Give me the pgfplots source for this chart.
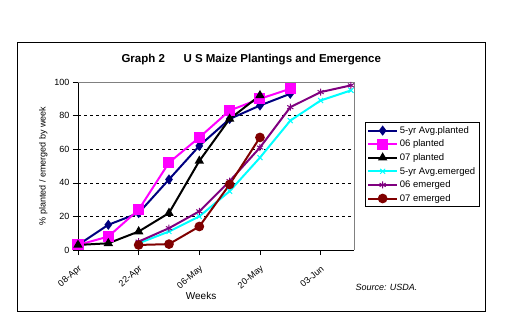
\documentclass[border=0pt]{standalone}
\usepackage{pgfplots}
\pgfplotsset{compat=1.18}
\usepackage{fontspec}
\setmainfont{Liberation Sans}
\definecolor{cnavy}{RGB}{0,0,128}
\definecolor{cmag}{RGB}{255,0,255}
\definecolor{ccyan}{RGB}{0,255,255}
\definecolor{cpurp}{RGB}{128,0,128}
\definecolor{cdred}{RGB}{128,0,0}
\begin{document}
\begin{tikzpicture}
\path (0pt,0pt) rectangle (512pt,-335pt);
\draw[line width=0.8pt] (17pt,-42pt) rectangle (485pt,-311pt);
\node[anchor=base west,font=\fontsize{11.5}{13}\selectfont\bfseries] at (118pt,-62pt) {Graph 2};
\node[anchor=base west,font=\fontsize{11.5}{13}\selectfont\bfseries] at (180pt,-62pt) {U S Maize Plantings and Emergence};
\begin{axis}[
  at={(78pt,-250pt)}, anchor=south west,
  scale only axis, width=276pt, height=168pt,
  xmin=0, xmax=9.1, ymin=0, ymax=100,
  axis x line*=bottom, axis y line*=left,
  axis line style={line width=0.6pt},
  xtick={0,2,4,6,8},
  xticklabels={08-Apr,22-Apr,06-May,20-May,03-Jun},
  ytick={0,20,40,60,80,100},
  tick align=outside, major tick length=5pt,
  tick style={black,line width=0.6pt},
  ymajorgrids, grid style={black,dashed,line width=0.6pt},
  xticklabel style={rotate=40,anchor=north east,font=\fontsize{9}{10}\selectfont, yshift=-4pt, xshift=-3pt},
  yticklabel style={font=\fontsize{9}{10}\selectfont},
  /pgf/number format/assume math mode=true,
  ylabel={\% planted / emerged by week},
  ylabel style={font=\fontsize{9}{10}\selectfont, xshift=0pt},
  xlabel={Weeks},
  xlabel style={font=\fontsize{10}{11}\selectfont, at={(axis description cs:0.446,-0.272)}, anchor=center},
  every axis plot/.append style={line width=2pt},
  legend style={at={(1.04,0.762)},anchor=north west,draw=black,line width=0.8pt,
    font=\fontsize{9.5}{11}\selectfont, row sep=1.2pt, inner sep=2pt},
  legend cell align=left,
  legend image code/.code={\draw[mark repeat=2,mark phase=2] plot coordinates {(0cm,0cm) (0.5cm,0cm) (1cm,0cm)};},
  clip=false,
]
\addplot[cnavy, mark=diamond*, mark size=3.5pt, mark options={solid}] coordinates {
(0,3) (1,15) (2,22) (3,42) (4,62) (5,78) (6,86) (7,93)};
\addlegendentry{5-yr Avg.planted}
\addplot[cmag, mark=square*, mark size=4.5pt] coordinates {
(0,3) (1,8) (2,24) (3,52) (4,67) (5,83) (6,90) (7,96)};
\addlegendentry{06 planted}
\addplot[black, mark=triangle*, mark size=3.5pt] coordinates {
(0,3) (1,4) (2,11) (3,22) (4,53) (5,78) (6,92)};
\addlegendentry{07 planted}
\addplot[ccyan, mark=x, mark size=3.5pt, mark options={line width=1pt}] coordinates {
(2,4) (3,11) (4,20) (5,35) (6,55) (7,77) (8,89) (9,95)};
\addlegendentry{5-yr Avg.emerged}
\addplot[cpurp, mark=asterisk, mark size=3.5pt, mark options={line width=1pt}] coordinates {
(2,5) (3,13) (4,23) (5,41) (6,61) (7,85) (8,94) (9,98)};
\addlegendentry{06 emerged}
\addplot[cdred, mark=*, mark size=3.8pt] coordinates {
(2,3) (3,3.5) (4,14) (5,39) (6,67)};
\addlegendentry{07 emerged}
\draw[gray,line width=0.8pt] (rel axis cs:0,1) -- (rel axis cs:1,1) -- (rel axis cs:1,0);
\end{axis}
\node[anchor=base west,font=\fontsize{9}{10}\selectfont\itshape] at (352pt,-290pt) {Source: USDA.};
\end{tikzpicture}
\end{document}
